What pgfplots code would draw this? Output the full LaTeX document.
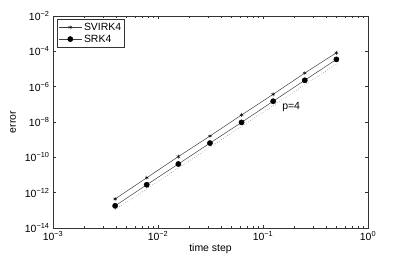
\documentclass[border=0pt]{standalone}
\usepackage{fontspec}
\setmainfont{Liberation Sans}
\usepackage{pgfplots}
\pgfplotsset{compat=1.18}
\usetikzlibrary{calc}
\begin{document}
\begin{tikzpicture}
\begin{axis}[
  scale only axis, width=315bp, height=212bp,
  xmode=log, ymode=log,
  xmin=1e-3, xmax=1, ymin=1e-14, ymax=1e-2,
  xtick={1e-3,1e-2,1e-1,1},
  xticklabels={10\textsuperscript{−3},10\textsuperscript{−2},10\textsuperscript{−1},10\textsuperscript{0}},
  minor xtick={2e-3,3e-3,4e-3,5e-3,6e-3,7e-3,8e-3,9e-3,2e-2,3e-2,4e-2,5e-2,6e-2,7e-2,8e-2,9e-2,2e-1,3e-1,4e-1,5e-1,6e-1,7e-1,8e-1,9e-1},
  ytick={1e-14,1e-12,1e-10,1e-8,1e-6,1e-4,1e-2},
  yticklabels={10\textsuperscript{−14},10\textsuperscript{−12},10\textsuperscript{−10},10\textsuperscript{−8},10\textsuperscript{−6},10\textsuperscript{−4},10\textsuperscript{−2}},
  minor ytick={},
  tick align=inside,
  major tick length=3.5bp, minor tick length=2bp,
  tick style={black!80, line width=0.4pt},
  axis line style={black!80, line width=0.5pt},
  tick label style={font=\fontsize{10.5}{12}\selectfont},
  label style={font=\fontsize{10.5}{12}\selectfont},
  xlabel={time step}, ylabel={error},
  xlabel style={yshift=4bp},
  ylabel style={yshift=2bp},
  legend style={at={(rel axis cs:0.012,0.985)}, anchor=north west,
    font=\fontsize{10.5}{12}\selectfont, draw=black!80, line width=0.5pt,
    inner sep=1.5pt, row sep=-1pt},
  legend image code/.code={\draw[mark repeat=2,mark phase=2] plot coordinates {(0bp,0bp)(11.5bp,0bp)(23bp,0bp)};},
  legend cell align=left,
]
\addplot[black!75, line width=0.5pt, mark=asterisk, mark size=2pt, mark options={black, line width=0.4pt}] coordinates {
  (0.5, 8.3e-5) (0.25, 5.9e-6) (0.125, 3.7e-7) (0.0625, 2.5e-8)
  (0.03125, 1.6e-9) (0.015625, 1.1e-10) (0.0078125, 7e-12) (0.00390625, 4.4e-13)
};
\addlegendentry{SVIRK4}
\addplot[black!75, line width=0.5pt, mark=*, mark size=2.6pt, mark options={black, fill=black}] coordinates {
  (0.5, 3.5e-5) (0.25, 2.3e-6) (0.125, 1.5e-7) (0.0625, 9.5e-9)
  (0.03125, 6.4e-10) (0.015625, 4.2e-11) (0.0078125, 2.8e-12) (0.00390625, 1.8e-13)
};
\addlegendentry{SRK4}
\addplot[black!60, dotted, line width=0.5pt, forget plot] coordinates {
  (0.00390625, 1.1e-13) (0.5, 1.9e-5)
};
\node[anchor=west, font=\fontsize{10.5}{12}\selectfont, inner sep=0pt] at (axis cs:0.152,7e-8) {p=4};
\end{axis}
\pgfresetboundingbox
\path[use as bounding box] ($(current axis.south west)+(-53bp,-28bp)$) rectangle ($(current axis.north east)+(39bp,16bp)$);
\end{tikzpicture}
\end{document}
